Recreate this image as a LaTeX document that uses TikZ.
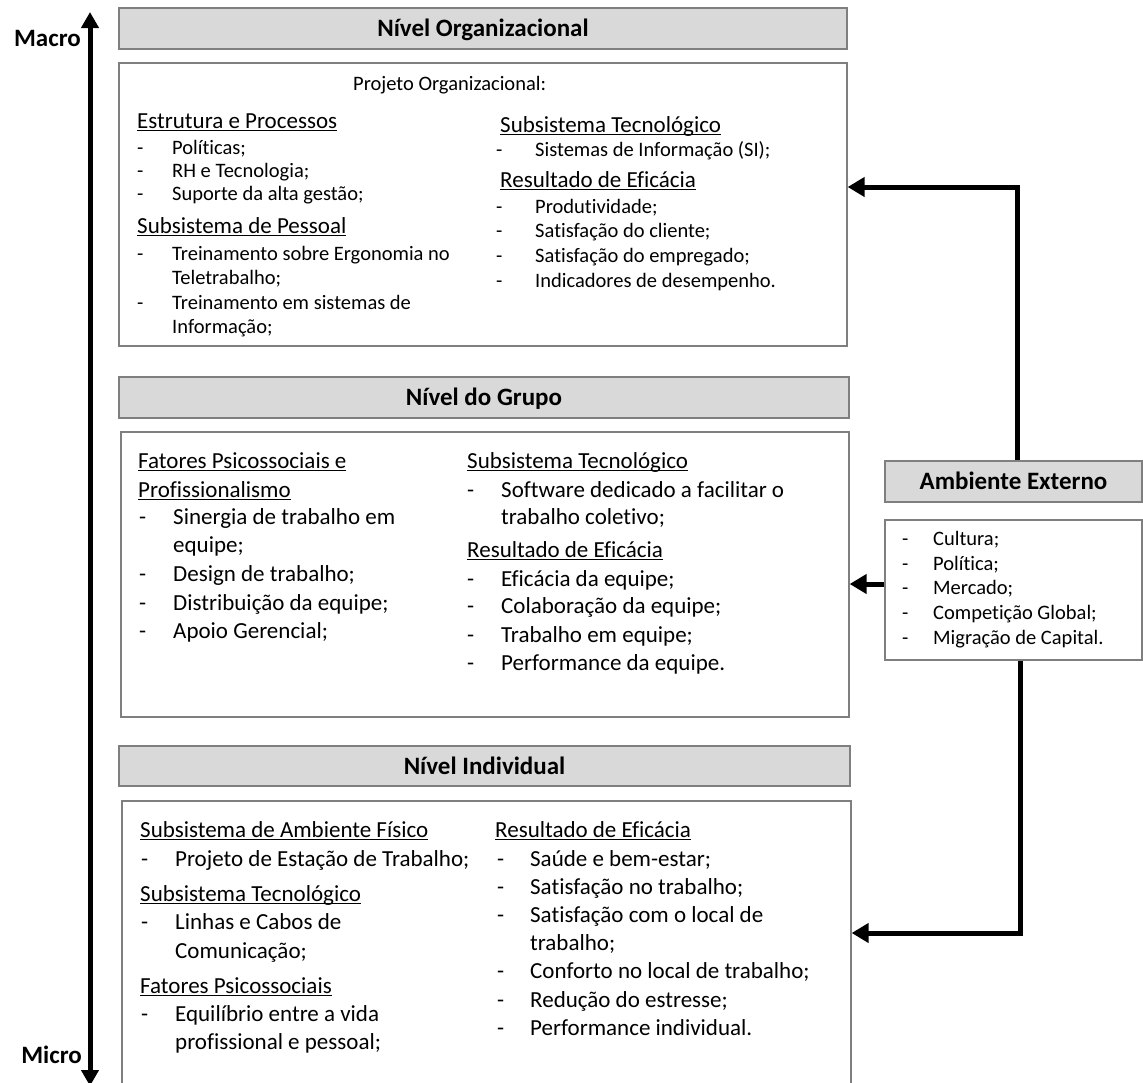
\documentclass[tikz,border=0pt]{standalone}
\usepackage{fontspec}
\setmainfont{Carlito}[Ligatures=NoCommon]
\usetikzlibrary{arrows.meta}
\definecolor{bordergray}{HTML}{7F7F7F}
\definecolor{hdrgray}{HTML}{D9D9D9}
\definecolor{txt}{HTML}{000000}
\newcommand\ulh[1]{\setbox0\hbox{#1}\rlap{\rule[-3pt]{\wd0}{1.4pt}}\box0}
\newcommand\ditem[2]{\makebox[#1][l]{-}#2}
\tikzset{
  panel/.style={draw=bordergray, line width=1.3pt, fill=white, inner sep=0pt, rectangle},
  hdr/.style={draw=bordergray, line width=1.3pt, fill=hdrgray, inner sep=0pt, rectangle,
    font=\fontsize{25}{30}\selectfont\bfseries, text=black, text height=21pt, text depth=5pt},
  hd/.style={anchor=base west, inner sep=0pt, font=\fontsize{23}{27}\selectfont, text=txt},
  itS/.style={anchor=base west, inner sep=0pt, font=\fontsize{20.5}{24}\selectfont, text=txt},
  itL/.style={anchor=base west, inner sep=0pt, font=\fontsize{23}{27}\selectfont, text=txt},
  side/.style={font=\fontsize{25}{30}\selectfont\bfseries, text=black, inner sep=0pt, anchor=base east},
  conn/.style={line width=5pt, draw=black, -{Triangle[length=17pt,width=19pt]}},
}
\begin{document}
\begin{tikzpicture}[x=1pt,y=1pt]
\useasboundingbox (0,0) rectangle (1143,-1082);
\clip (0,0) rectangle (1143,-1082);
\fill[white] (0,0) rectangle (1143,-1082);

% scale arrow
\coordinate (ab) at (90,-1086);
\coordinate (at) at (90,-12);
\draw[line width=5pt, {Triangle[length=16pt,width=17pt]}-{Triangle[length=16pt,width=17pt]}] (ab) -- (at);
\node[side] (macro) at (81,-46) {Macro};
\node[side] (micro) at (82,-1063) {Micro};

% panels
\node[hdr, minimum width=728pt, minimum height=41pt] (h1) at (483,-28.5) {Nível Organizacional};
\node[panel, minimum width=728pt, minimum height=283pt] (b1) at (483,-204.5) {};
\node[hdr, minimum width=730pt, minimum height=41pt] (h2) at (484,-397.5) {Nível do Grupo};
\node[panel, minimum width=728pt, minimum height=285pt] (b2) at (485,-574.5) {};
\node[hdr, minimum width=731pt, minimum height=40pt] (h3) at (484.5,-766) {Nível Individual};
\node[panel, minimum width=729pt, minimum height=299pt] (b3) at (486.5,-950.5) {};
\node[hdr, minimum width=257pt, minimum height=41pt] (ha) at (1013.5,-481.5) {Ambiente Externo};
\node[panel, minimum width=257pt, minimum height=140pt] (ba) at (1013.5,-590) {};

% box 1
\node[itS] (p1) at (353,-90) {Projeto Organizacional:};
\node[hd] (l1a) at (137,-128) {\ulh{Estrutura e Processos}};
\node[itS] (l1b) at (137,-154) {\ditem{35pt}{Políticas;}};
\node[itS] (l1c) at (137,-177) {\ditem{35pt}{RH e Tecnologia;}};
\node[itS] (l1d) at (137,-200) {\ditem{35pt}{Suporte da alta gestão;}};
\node[hd] (l1e) at (137,-233) {\ulh{Subsistema de Pessoal}};
\node[itS] (l1f) at (137,-260) {\ditem{35pt}{Treinamento sobre Ergonomia no}};
\node[itS] (l1g) at (172,-284) {Teletrabalho;};
\node[itS] (l1h) at (137,-309) {\ditem{35pt}{Treinamento em sistemas de}};
\node[itS] (l1i) at (172,-333) {Informação;};

\node[hd] (r1a) at (500,-132) {\ulh{Subsistema Tecnológico}};
\node[itS] (r1b) at (496,-156) {\ditem{39pt}{Sistemas de Informação (SI);}};
\node[hd] (r1c) at (500,-187) {\ulh{Resultado de Eficácia}};
\node[itS] (r1d) at (496,-213) {\ditem{39pt}{Produtividade;}};
\node[itS] (r1e) at (496,-237) {\ditem{39pt}{Satisfação do cliente;}};
\node[itS] (r1f) at (496,-262) {\ditem{39pt}{Satisfação do empregado;}};
\node[itS] (r1g) at (496,-287) {\ditem{39pt}{Indicadores de desempenho.}};

% box 2
\node[hd] (l2a) at (138,-468) {\ulh{Fatores Psicossociais e}};
\node[hd] (l2b) at (138,-497) {\ulh{Profissionalismo}};
\node[itL] (l2c) at (139,-524) {\ditem{34pt}{Sinergia de trabalho em}};
\node[itL] (l2d) at (173,-552.5) {equipe;};
\node[itL] (l2e) at (139,-581) {\ditem{34pt}{Design de trabalho;}};
\node[itL] (l2f) at (139,-610) {\ditem{34pt}{Distribuição da equipe;}};
\node[itL] (l2g) at (139,-638.5) {\ditem{34pt}{Apoio Gerencial;}};

\node[hd] (r2a) at (467,-468) {\ulh{Subsistema Tecnológico}};
\node[itL] (r2b) at (467,-497) {\ditem{34pt}{Software dedicado a facilitar o}};
\node[itL] (r2c) at (501,-524) {trabalho coletivo;};
\node[hd] (r2d) at (467,-557) {\ulh{Resultado de Eficácia}};
\node[itL] (r2e) at (467,-586) {\ditem{34pt}{Eficácia da equipe;}};
\node[itL] (r2f) at (467,-613.5) {\ditem{34pt}{Colaboração da equipe;}};
\node[itL] (r2g) at (467,-642) {\ditem{34pt}{Trabalho em equipe;}};
\node[itL] (r2h) at (467,-670) {\ditem{34pt}{Performance da equipe.}};

% box 3
\node[hd] (l3a) at (140,-837) {\ulh{Subsistema de Ambiente Físico}};
\node[itL] (l3b) at (141,-866) {\ditem{34pt}{Projeto de Estação de Trabalho;}};
\node[hd] (l3c) at (140,-901) {\ulh{Subsistema Tecnológico}};
\node[itL] (l3d) at (141,-929.5) {\ditem{34pt}{Linhas e Cabos de}};
\node[itL] (l3e) at (175,-958) {Comunicação;};
\node[hd] (l3f) at (140,-993) {\ulh{Fatores Psicossociais}};
\node[itL] (l3g) at (141,-1021) {\ditem{34pt}{Equilíbrio entre a vida}};
\node[itL] (l3h) at (175,-1049) {profissional e pessoal;};

\node[hd] (r3a) at (495,-837) {\ulh{Resultado de Eficácia}};
\node[itL] (r3b) at (497,-866) {\ditem{33pt}{Saúde e bem-estar;}};
\node[itL] (r3c) at (497,-894) {\ditem{33pt}{Satisfação no trabalho;}};
\node[itL] (r3d) at (497,-922) {\ditem{33pt}{Satisfação com o local de}};
\node[itL] (r3e) at (530,-950) {trabalho;};
\node[itL] (r3f) at (497,-978.5) {\ditem{33pt}{Conforto no local de trabalho;}};
\node[itL] (r3g) at (497,-1007) {\ditem{33pt}{Redução do estresse;}};
\node[itL] (r3h) at (497,-1035) {\ditem{33pt}{Performance individual.}};

% ambiente externo
\node[itS] (a1) at (902,-545) {\ditem{31pt}{Cultura;}};
\node[itS] (a2) at (902,-570) {\ditem{31pt}{Política;}};
\node[itS] (a3) at (902,-594.5) {\ditem{31pt}{Mercado;}};
\node[itS] (a4) at (902,-619) {\ditem{31pt}{Competição Global;}};
\node[itS] (a5) at (902,-644) {\ditem{31pt}{Migração de Capital.}};

% connectors
\coordinate (c1) at (1017,-187);
\coordinate (c2) at (1020,-933);
\coordinate (c3) at (870,-584);
\draw[conn] (ha.north -| c1) -- (c1) -- (c1 -| b1.east);
\draw[conn] (ba.west |- c3) -- (b2.east |- c3);
\draw[conn] (ba.south -| c2) -- (c2) -- (c2 -| b3.east);
\end{tikzpicture}
\end{document}
